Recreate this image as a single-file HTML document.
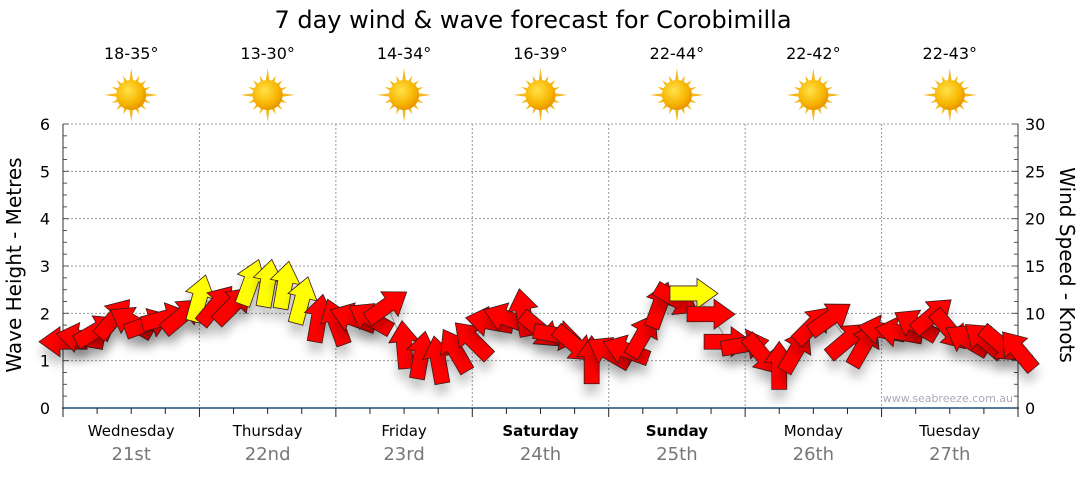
<!DOCTYPE html>
<html><head><meta charset="utf-8"><style>
body{margin:0;background:#fff;width:1080px;height:475px;overflow:hidden;font-family:"Liberation Sans","DejaVu Sans",sans-serif}
</style></head><body>
<svg id="chart" width="1080" height="475" xmlns="http://www.w3.org/2000/svg" font-family="'DejaVu Sans','Liberation Sans',sans-serif">
<defs>
<filter id="sh" x="-50%" y="-50%" width="200%" height="250%"><feDropShadow dx="0" dy="10" stdDeviation="5" flood-color="#000" flood-opacity="0.22"/></filter>
<radialGradient id="sun" cx="40%" cy="35%" r="65%"><stop offset="0" stop-color="#ffe24a"/><stop offset="0.7" stop-color="#f7b500"/><stop offset="1" stop-color="#e89400"/></radialGradient>
</defs>
<text x="533" y="28" font-size="24" text-anchor="middle" fill="#000">7 day wind &amp; wave forecast for Corobimilla</text>
<g id="grid"></g><g id="axes"></g><g id="header"></g><g id="marks"></g>
<text transform="translate(21,265) rotate(-90)" font-size="20" text-anchor="middle">Wave Height - Metres</text>
<text transform="translate(1060,265) rotate(90)" font-size="20" text-anchor="middle">Wind Speed - Knots</text>
<text x="1013" y="402" font-size="11" text-anchor="end" fill="#aab">www.seabreeze.com.au</text>
</svg>
<script>
const days=["Wednesday","Thursday","Friday","Saturday","Sunday","Monday","Tuesday"];
const dates=["21st","22nd","23rd","24th","25th","26th","27th"];
const boldDays=[false,false,false,true,true,false,false];
const temps=["18-35°","13-30°","14-34°","16-39°","22-44°","22-42°","22-43°"];
const waveTicks=[0,1,2,3,4,5,6];
const windTicks=[0,5,10,15,20,25,30];
const windKnots=[7.0,7.4,8.2,9.5,9.1,8.9,9.5,9.8,11.6,10.9,10.9,13.3,13.2,13.0,11.4,9.5,9.1,9.5,9.5,10.8,6.7,5.6,5.1,6.1,7.2,9.1,9.5,10.1,8.2,7.7,6.7,5.1,5.9,6.1,7.7,10.9,11.4,12.1,9.9,7.0,6.7,5.6,4.5,6.1,8.8,9.5,7.2,6.7,8.2,8.0,8.8,9.8,8.2,7.2,7.2,6.7,6.1];
const windDir=[180,-170,-30,-50,-150,-20,-15,-40,-75,-50,-45,-70,-80,-80,-75,-80,-110,-160,-150,-35,-95,-80,-100,-120,-135,-170,-160,-100,40,10,40,-90,-150,-160,-60,-70,30,0,0,0,-10,50,-90,-60,-45,-35,-40,-60,-170,-170,-150,-40,50,-150,-140,40,-130];
const yellowIdx=[8,11,12,13,14,37];

const X0=63,X1=1018,Y0=408,Y1=124,NS="http://www.w3.org/2000/svg";
const dayW=(X1-X0)/7;
const xAt=h=>X0+h/168*(X1-X0);
const yWave=m=>Y0-m/6*(Y0-Y1);
const yWind=k=>Y0-k/30*(Y0-Y1);
function mk(tag,attrs,parent){const e=document.createElementNS(NS,tag);for(const k in attrs)e.setAttribute(k,attrs[k]);parent.appendChild(e);return e;}
const grid=document.getElementById('grid'),axes=document.getElementById('axes'),header=document.getElementById('header'),marks=document.getElementById('marks');
waveTicks.forEach(m=>{if(m>0){const l=mk('line',{x1:X0,x2:X1,y1:yWave(m),y2:yWave(m),stroke:'#999','stroke-dasharray':'2,2'},grid);

}
const t=mk('text',{x:50,y:yWave(m)+6,'font-size':16,'text-anchor':'end'},axes);t.textContent=m;

});
for(let m=0;m<=6.001;m+=0.25){mk('line',{x1:X0,x2:X0+(m%1===0?6:4),y1:yWave(m),y2:yWave(m),stroke:'#555'},axes);}
windTicks.forEach(k=>{const t=mk('text',{x:1025,y:yWind(k)+6,'font-size':16},axes);t.textContent=k;

});
for(let k=0;k<=30;k+=1.25){mk('line',{x1:X1-(k%5===0?6:4),x2:X1,y1:yWind(k),y2:yWind(k),stroke:'#555'},axes);}
mk('line',{x1:X0,x2:X0,y1:Y1,y2:Y0,stroke:'#333'},axes);
mk('line',{x1:X1,x2:X1,y1:Y1,y2:Y0,stroke:'#333'},axes);
const bx=mk('line',{x1:X0-1,x2:X1+1,y1:Y0,y2:Y0,stroke:'#1d4f78','stroke-width':1.5},axes);


for(let h=0;h<=168;h+=6){mk('line',{x1:xAt(h),x2:xAt(h),y1:Y0,y2:Y0+(h%24===0?9:6),stroke:'#222'},axes);}
days.forEach((d,i)=>{const cx=X0+dayW*(i+0.5);
if(i>0){const l=mk('line',{x1:X0+dayW*i,x2:X0+dayW*i,y1:Y1,y2:Y0,stroke:'#999','stroke-dasharray':'2,2'},grid);

}
const t=mk('text',{x:cx,y:436,'font-size':15,'text-anchor':'middle','font-weight':boldDays[i]?'bold':'normal'},axes);t.textContent=d;


const dt=mk('text',{x:cx,y:460,'font-size':18,'text-anchor':'middle',fill:'#777'},axes);dt.textContent=dates[i];


const tp=mk('text',{x:cx,y:59,'font-size':16,'text-anchor':'middle'},header);tp.textContent=temps[i];


const g=mk('g',{transform:`translate(${cx},95)`},header);


for(let a=0;a<16;a++){const long=a%4===0;const r=long?27:21;const ang=a*Math.PI/8;
const p1=[Math.cos(ang)*r,Math.sin(ang)*r],pl=[Math.cos(ang+0.18)*12,Math.sin(ang+0.18)*12],pr=[Math.cos(ang-0.18)*12,Math.sin(ang-0.18)*12];
mk('polygon',{points:`${p1} ${pl} ${pr}`,fill:'#f2b81c'},g);}
mk('circle',{r:15,fill:'url(#sun)'},g);
});
const pts=windKnots.map((k,i)=>[xAt(i*3),yWind(k)]);
mk('polyline',{points:pts.map(p=>p.join(',')).join(' '),fill:'none',stroke:'#aaa','stroke-width':1},marks);
const arrowPts="-24,-7.5 3,-7.5 3,-15 24,0 3,15 3,7.5 -24,7.5";
windKnots.forEach((k,i)=>{const x=xAt(i*3),y=yWind(k);
const g=mk('g',{filter:'url(#sh)'},marks);
const p=mk('polygon',{points:arrowPts,transform:`translate(${x},${y}) rotate(${windDir[i]})`,fill:yellowIdx.includes(i)?'#ffff00':'#ff0000',stroke:'#3a1a1a','stroke-width':0.8,'stroke-linejoin':'miter'},g);


});
</script>
</body></html>
